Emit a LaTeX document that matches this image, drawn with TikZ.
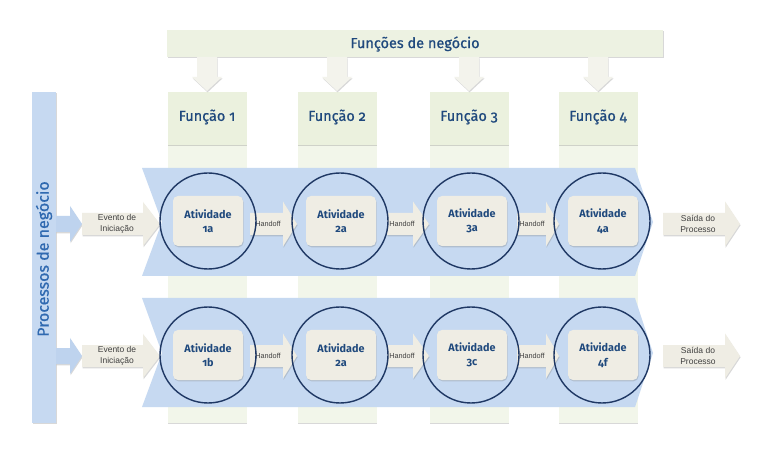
\documentclass[tikz,border=0pt]{standalone}
\usepackage{fontspec}
\setmainfont{Fira Sans}[Numbers=OldStyle]
\newfontfamily\headfont{Fira Sans}[Numbers=OldStyle,FakeBold=0.8]
\newfontfamily\smallfont{Liberation Sans}
\usetikzlibrary{shadows}
\definecolor{tblue}{HTML}{1F497D}
\definecolor{pblue}{HTML}{2F69B0}
\definecolor{bandblue}{HTML}{C6D9F1}
\definecolor{arrblue}{HTML}{BED3EE}
\definecolor{topgreen}{HTML}{EDF2E2}
\definecolor{headgreen}{HTML}{EBF1DE}
\definecolor{colgreen}{HTML}{F2F6EA}
\definecolor{beige}{HTML}{EFEDE4}
\definecolor{downbeige}{HTML}{F3F3EC}
\definecolor{ringblue}{HTML}{1F3864}
\newcommand{\myharr}[7][]{\path[#1] (#2,#5-#6) -- (#3,#5-#6) -- (#3,#5-#7) -- (#4,#5) -- (#3,#5+#7) -- (#3,#5+#6) -- (#2,#5+#6) -- cycle;}
\newcommand{\myvarr}[7][]{\path[#1] (#5-#6,#2) -- (#5-#6,#3) -- (#5-#7,#3) -- (#5,#4) -- (#5+#7,#3) -- (#5+#6,#3) -- (#5+#6,#2) -- cycle;}
\begin{document}
\begin{tikzpicture}[x=1pt,y=-1pt,
  shd/.style={drop shadow={shadow xshift=0.6pt,shadow yshift=-1.3pt,opacity=0.3}},
  topbar/.style={fill=topgreen,shd},
  colhead/.style={fill=headgreen,shd},
  colbody/.style={fill=colgreen,shd},
  bandshape/.style={fill=bandblue},
  procbar/.style={fill=bandblue,shd},
  downarr/.style={fill=downbeige,shd},
  beigearr/.style={fill=beige,shd},
  bluearr/.style={fill=arrblue,shd},
  actbox/.style={rectangle,rounded corners=5pt,fill=beige,shd,minimum width=70pt,minimum height=50pt,
    align=center,text=tblue,font=\bfseries\fontsize{10.8}{14.5}\selectfont},
  ring/.style={circle,draw=ringblue,line width=1.4pt,minimum size=96pt,inner sep=0pt},
  headtxt/.style={text=tblue,font=\headfont\fontsize{14.5}{17}\selectfont},
  smalltxt/.style={text=black!75,align=center,font=\smallfont\fontsize{8.5}{10.5}\selectfont,inner sep=0pt},
  hofftxt/.style={text=black!75,font=\smallfont\fontsize{7.3}{8}\selectfont,inner sep=0pt}]
\useasboundingbox (0,0) rectangle (761,449);
\fill[white] (0,0) rectangle (761,449);
% top bar
\path[topbar] (167,30) rectangle (663,57);
\node[headtxt] (fn) at (415,44) {Funções de negócio};
% columns
\foreach \cx/\n in {207/1,337/2,469/3,598/4}{
  \path[colbody] (\cx-39.5,145) rectangle (\cx+39.5,423);
  \path[colhead] (\cx-39.5,92) rectangle (\cx+39.5,145);
  \node[headtxt] (f\n) at (\cx,117) {Função \n};
  \myvarr[downarr]{57}{77}{91}{\cx}{10}{15}
}
% process bar
\path[procbar] (32,92) rectangle (56,423);
\node[rotate=90,text=pblue,font=\headfont\fontsize{16}{18}\selectfont] (pn) at (44,259) {Processos de negócio};
% bands
\path[bandshape] (142,168) -- (635,168) -- (653,222) -- (635,276) -- (142,276) -- (162,222) -- cycle;
\path[bandshape] (142,298) -- (635,298) -- (653,353) -- (635,407) -- (142,407) -- (162,353) -- cycle;
% rows
\foreach \r/\yc/\ya/\la/\lb/\lc/\ld in {1/221/224/1a/2a/3a/4a, 2/355/356/1b/2a/3c/4f}{
  \myharr[bluearr]{56}{70}{82}{\ya}{8}{18}
  \myharr[beigearr]{82}{143}{160}{\ya}{11}{22}
  \node[smalltxt] (ev\r) at (117,\ya) {Evento de\\Iniciação};
  \myharr[beigearr]{250}{283}{297}{\ya}{11}{22.5}
  \myharr[beigearr]{387}{413}{429}{\ya}{11}{22.5}
  \myharr[beigearr]{517}{546}{559}{\ya}{11}{22.5}
  \node[hofftxt] (ha\r) at (268,\ya) {Handoff};
  \node[hofftxt] (hb\r) at (402,\ya) {Handoff};
  \node[hofftxt] (hc\r) at (532,\ya) {Handoff};
  \myharr[beigearr]{663}{725}{740}{\ya}{11}{22.5}
  \node[smalltxt] (sa\r) at (698,\ya) {Saída do\\Processo};
  \node[actbox] (a\r) at (208,\yc) {Atividade\\\la};
  \node[actbox] (b\r) at (341,\yc) {Atividade\\\lb};
  \node[actbox] (c\r) at (472,\yc) {Atividade\\\lc};
  \node[actbox] (d\r) at (603,\yc) {Atividade\\\ld};
  \node[ring] (ra\r) at (208,\yc) {};
  \node[ring] (rb\r) at (340,\yc) {};
  \node[ring] (rc\r) at (471,\yc) {};
  \node[ring] (rd\r) at (602,\yc) {};
}
\end{tikzpicture}
\end{document}
